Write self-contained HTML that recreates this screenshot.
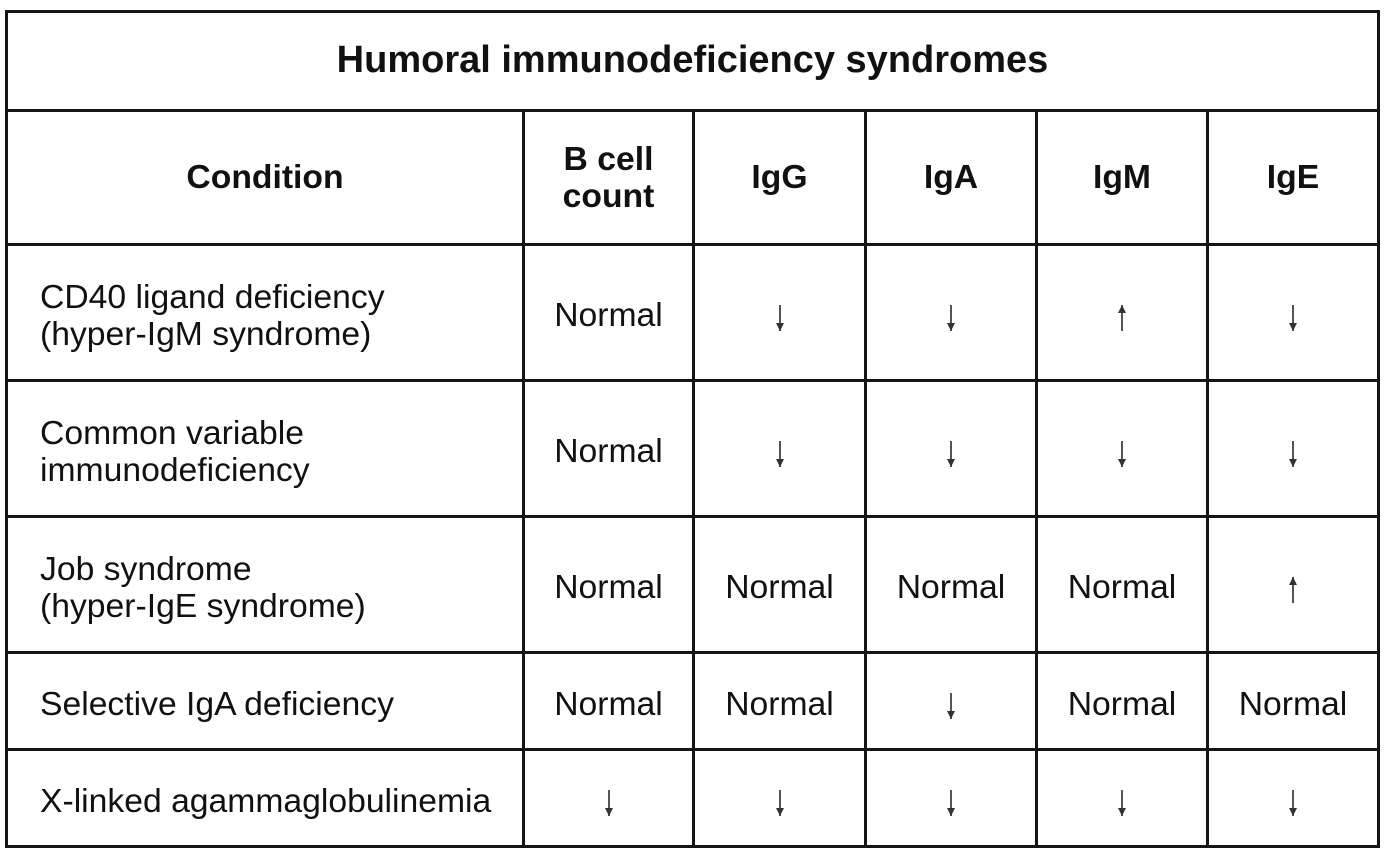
<!DOCTYPE html>
<html><head><meta charset="utf-8"><style>
html,body{margin:0;padding:0;background:#fff;}
body{width:1385px;height:852px;position:relative;overflow:hidden;font-family:"Liberation Sans",Arial,sans-serif;color:#111;}
.h{position:absolute;height:3px;background:#151515;}
.v{position:absolute;width:3px;background:#151515;}
.c{position:absolute;display:flex;align-items:center;justify-content:center;text-align:center;font-size:33.7px;line-height:37px;box-sizing:border-box;}
.body{padding-top:6px;}
.l{justify-content:flex-start;text-align:left;padding-left:32px;}
.b{font-weight:bold;}
.arr{display:inline-block;position:relative;width:10px;height:26px;margin-top:4px;}
.arr::before{content:"";position:absolute;left:4px;top:0;width:2px;height:26px;background:#555;}
.dn::after{content:"";position:absolute;left:1px;bottom:0;border-left:4px solid transparent;border-right:4px solid transparent;border-top:8px solid #333;}
.up::after{content:"";position:absolute;left:1px;top:0;border-left:4px solid transparent;border-right:4px solid transparent;border-bottom:8px solid #333;}
</style></head><body>
<div class="c b" style="left:5px;top:12px;width:1375px;height:97px;font-size:38px;">Humoral immunodeficiency syndromes</div>
<script>
const rowsY=[10,109,243,379,515,651,748,845];
const colsX=[5,522,692,864,1035,1206,1377];
const headers=["Condition","B cell<br>count","IgG","IgA","IgM","IgE"];
const conditions=["CD40 ligand deficiency<br>(hyper-IgM syndrome)","Common variable<br>immunodeficiency","Job syndrome<br>(hyper-IgE syndrome)","Selective IgA deficiency","X-linked agammaglobulinemia"];
const values=[
["N","D","D","U","D"],
["N","D","D","D","D"],
["N","N","N","N","U"],
["N","N","D","N","N"],
["D","D","D","D","D"]];
const g=document.body;
function mk(cls,st){const d=document.createElement('div');d.className=cls;Object.assign(d.style,st);g.appendChild(d);return d;}
rowsY.forEach((y)=>{
  const d=mk('h',{left:colsX[0]+'px',top:y+'px',width:(colsX[6]-colsX[0]+3)+'px'});
  
  
});
colsX.forEach((x,i)=>{
  const top=(i===0||i===6)?rowsY[0]:rowsY[1];
  const d=mk('v',{left:x+'px',top:top+'px',height:(rowsY[7]-top+3)+'px'});
  
  
});
headers.forEach((t,i)=>{
  const d=mk('c b',{left:(colsX[i]+3)+'px',top:(rowsY[1]+3)+'px',width:(colsX[i+1]-colsX[i]-3)+'px',height:(rowsY[2]-rowsY[1]-3)+'px'});
  d.innerHTML=t;
  
  
});
conditions.forEach((t,r)=>{
  const top=rowsY[r+2]+3,h=rowsY[r+3]-rowsY[r+2]-3;
  const d=mk('c l body',{left:(colsX[0]+3)+'px',top:top+'px',width:(colsX[1]-colsX[0]-3)+'px',height:h+'px'});
  d.innerHTML=t;
  
  
  values[r].forEach((v,c)=>{
    const e=mk('c body',{left:(colsX[c+1]+3)+'px',top:top+'px',width:(colsX[c+2]-colsX[c+1]-3)+'px',height:h+'px'});
    if(v==='N'){e.textContent='Normal';}
    else{const a=document.createElement('span');a.className='arr '+(v==='U'?'up':'dn');e.appendChild(a);}
    
    
  });
});
</script>
</body></html>
